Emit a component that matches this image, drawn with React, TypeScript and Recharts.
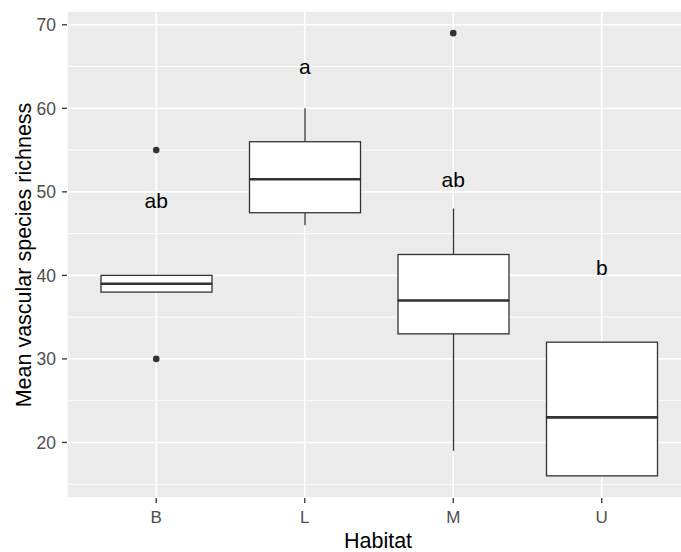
import React from 'react';
import { ComposedChart, Bar, Line, XAxis, YAxis, CartesianGrid } from 'recharts';

// five-number summaries per habitat
const habitats = ['B', 'L', 'M', 'U'];
const whiskerLow = [38, 46, 19, 16];
const q1 = [38, 47.5, 33, 16];
const median = [39, 51.5, 37, 23];
const q3 = [40, 56, 42.5, 32];
const whiskerHigh = [40, 60, 48, 32];
const outliers: number[][] = [[55, 30], [], [69], []];

// compact letter display above each box
const letters = ['ab', 'a', 'ab', 'b'];
const letterY = [49, 65, 51.5, 41];

const majorTicks = [20, 30, 40, 50, 60, 70];
const minorTicks = [15, 25, 35, 45, 55, 65];

const FONT = '"Liberation Sans", Arial, sans-serif';
const INK = '#333333';

// stacked segments: transparent base, lower whisker, lower box, upper box, upper whisker
const rows = habitats.map((h, i) => ({
  habitat: h,
  base: whiskerLow[i],
  wLow: q1[i] - whiskerLow[i],
  bLow: median[i] - q1[i],
  bHigh: q3[i] - median[i],
  wHigh: whiskerHigh[i] - q3[i],
  out1: outliers[i][0] ?? null,
  out2: outliers[i][1] ?? null,
  letterY: letterY[i],
  letter: letters[i],
}));

const norm = (p: any) => {
  const top = Math.min(p.y, p.y + p.height);
  return { x: p.x, w: p.width, top, h: Math.abs(p.height) };
};

const Whisker = (p: any) => {
  const { x, w, top, h } = norm(p);
  if (!h) return <g />;
  return <line x1={x + w / 2} x2={x + w / 2} y1={top} y2={top + h} stroke={INK} strokeWidth={1.3} />;
};

const BoxLow = (p: any) => {
  const { x, w, top, h } = norm(p);
  return <rect x={x} y={top} width={w} height={h} fill="#fff" stroke={INK} strokeWidth={1.3} />;
};

const BoxHigh = (p: any) => {
  const { x, w, top, h } = norm(p);
  return (
    <g>
      <rect x={x} y={top} width={w} height={h} fill="#fff" stroke={INK} strokeWidth={1.3} />
      <line x1={x} x2={x + w} y1={top + h} y2={top + h} stroke={INK} strokeWidth={2.6} />
    </g>
  );
};

const outlierDot = { r: 3.3, fill: INK, stroke: 'none' };

const LetterDot = (p: any) => {
  if (p.cx == null || p.cy == null) return <g key={p.index} />;
  return (
    <text key={p.index} x={p.cx} y={p.cy} textAnchor="middle" dominantBaseline="central"
      fontFamily={FONT} fontSize={21} fill="#000">
      {p.payload.letter}
    </text>
  );
};

export default function App() {
  return (
    <div style={{ position: 'absolute', left: 0, top: 0, width: 681, height: 552, overflow: 'hidden', background: '#fff' }}>
      <ComposedChart width={700} height={552} data={rows} margin={{ top: 11, right: 9, left: 0, bottom: 0 }}>
        <CartesianGrid fill="#EBEBEB" fillOpacity={1} stroke="#fff" strokeWidth={0.9}
          vertical={false} horizontalValues={minorTicks} />
        <CartesianGrid stroke="#fff" strokeWidth={1.6} />
        <XAxis dataKey="habitat" height={54} padding={{ left: 15, right: 15 }}
          axisLine={false} tickSize={5} tickMargin={8}
          tickLine={{ stroke: INK, strokeWidth: 1.3 }}
          tick={{ fill: '#4D4D4D', fontSize: 17, fontFamily: FONT }}
          label={(props: any) => (
            <text x={378} y={548} textAnchor="middle" fontFamily={FONT} fontSize={21.5} fill="#000">Habitat</text>
          )} />
        <YAxis type="number" domain={[13.35, 71.65]} allowDataOverflow ticks={majorTicks} width={67}
          axisLine={false} tickSize={5} tickMargin={6}
          tickLine={{ stroke: INK, strokeWidth: 1.3 }}
          tick={{ fill: '#4D4D4D', fontSize: 17.5, fontFamily: FONT }}
          label={(props: any) => (
            <text x={24} y={255} transform="rotate(-90 24 255)" textAnchor="middle" dominantBaseline="central"
              fontFamily={FONT} fontSize={21.5} fill="#000">Mean vascular species richness</text>
          )} />
        <Bar dataKey="base" stackId="box" barSize={111} fill="none" isAnimationActive={false} />
        <Bar dataKey="wLow" stackId="box" barSize={111} shape={Whisker} isAnimationActive={false} />
        <Bar dataKey="bLow" stackId="box" barSize={111} shape={BoxLow} isAnimationActive={false} />
        <Bar dataKey="bHigh" stackId="box" barSize={111} shape={BoxHigh} isAnimationActive={false} />
        <Bar dataKey="wHigh" stackId="box" barSize={111} shape={Whisker} isAnimationActive={false} />
        <Line dataKey="out1" stroke="none" dot={outlierDot} activeDot={false} isAnimationActive={false} />
        <Line dataKey="out2" stroke="none" dot={outlierDot} activeDot={false} isAnimationActive={false} />
        <Line dataKey="letterY" stroke="none" dot={LetterDot} activeDot={false} isAnimationActive={false} />
      </ComposedChart>
    </div>
  );
}
